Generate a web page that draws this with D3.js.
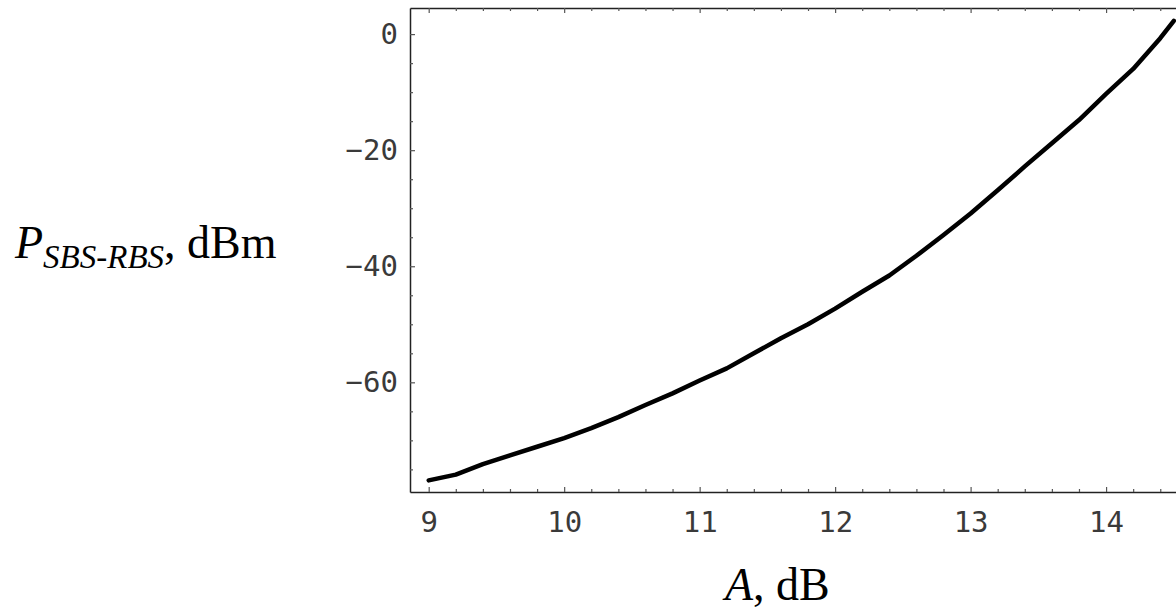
<!DOCTYPE html>
<html>
<head>
<meta charset="utf-8">
<script src="https://cdn.jsdelivr.net/npm/d3@7"></script>
<style>
  body { margin: 0; background: #fff; }
  .tick text { font-family: "DejaVu Sans Mono", "Liberation Mono", monospace; fill: #3a3a3a; }
  .axisText { font-family: "Liberation Serif", "Times New Roman", serif; fill: #000; }
</style>
</head>
<body>
<div id="chart"></div>
<script>
var svgWidth = 1176;
var svgHeight = 609;

// frame in pixels (right side runs past the picture edge)
var margin = { top: 8, right: -10, bottom: 117, left: 410 };
var width = svgWidth - margin.left - margin.right;
var height = svgHeight - margin.top - margin.bottom;

// Data
var attenuation = [9.0, 9.2, 9.4, 9.6, 9.8, 10.0, 10.2, 10.4, 10.6, 10.8, 11.0, 11.2, 11.4, 11.6, 11.8,
  12.0, 12.2, 12.4, 12.6, 12.8, 13.0, 13.2, 13.4, 13.6, 13.8, 14.0, 14.2, 14.4, 14.5];
var power = [-76.9, -75.9, -74.1, -72.6, -71.1, -69.6, -67.9, -66.0, -63.9, -61.9, -59.7, -57.6, -55.0, -52.4, -50.0,
  -47.3, -44.4, -41.6, -38.2, -34.6, -30.9, -26.9, -22.8, -18.8, -14.8, -10.3, -6.0, -0.7, 2.3];
var xTicks = [9, 10, 11, 12, 13, 14];
var yTicks = [0, -20, -40, -60];

var data = attenuation.map(function(a, i) { return { a: a, p: power[i] }; });

var svg = d3.select("#chart")
  .append("svg")
  .attr("width", svgWidth)
  .attr("height", svgHeight);

var chartGroup = svg.append("g")
  .attr("transform", `translate(${margin.left}, ${margin.top})`);

var xScale = d3.scaleLinear()
  .domain([8.862, 14.59])
  .range([0, width]);

var yScale = d3.scaleLinear()
  .domain([-78.9, 4.5])
  .range([height, 0]);

var xMinor = d3.range(8.8, 14.8, 0.2).map(d => +d.toFixed(1)).filter(d => d >= 8.862 && xTicks.indexOf(d) < 0);
var yMinor = d3.range(-75, 5, 5).filter(d => yTicks.indexOf(d) < 0);

function styleAxis(g) {
  g.select(".domain").attr("stroke", "#222").attr("stroke-width", 1.5);
  g.selectAll(".tick line").attr("stroke", "#555").attr("stroke-width", 1.2);
}

// bottom axis
chartGroup.append("g")
  .attr("transform", `translate(0, ${height})`)
  .call(d3.axisBottom(xScale).tickValues(xTicks).tickSize(-5).tickSizeOuter(0).tickPadding(19).tickFormat(d3.format("d")))
  .call(styleAxis)
  .call(g => g.selectAll("text").style("font-size", "29px"));
chartGroup.append("g")
  .attr("transform", `translate(0, ${height})`)
  .call(d3.axisBottom(xScale).tickValues(xMinor).tickSize(-3).tickSizeOuter(0).tickFormat(""))
  .call(styleAxis)
  .call(g => g.select(".domain").remove());

// top axis
chartGroup.append("g")
  .call(d3.axisTop(xScale).tickValues(xTicks).tickSize(-5).tickSizeOuter(0).tickFormat(""))
  .call(styleAxis);
chartGroup.append("g")
  .call(d3.axisTop(xScale).tickValues(xMinor).tickSize(-3).tickSizeOuter(0).tickFormat(""))
  .call(styleAxis)
  .call(g => g.select(".domain").remove());

// left axis
chartGroup.append("g")
  .call(d3.axisLeft(yScale).tickValues(yTicks).tickSize(-5).tickSizeOuter(0).tickPadding(12).tickFormat(d => d < 0 ? "\u2212" + Math.abs(d) : d))
  .call(styleAxis)
  .call(g => g.selectAll("text").style("font-size", "29px"));
chartGroup.append("g")
  .call(d3.axisLeft(yScale).tickValues(yMinor).tickSize(-3).tickSizeOuter(0).tickFormat(""))
  .call(styleAxis)
  .call(g => g.select(".domain").remove());

// curve
var line = d3.line()
  .x(d => xScale(d.a))
  .y(d => yScale(d.p));

chartGroup.append("path")
  .datum(data)
  .attr("fill", "none")
  .attr("stroke", "#000")
  .attr("stroke-width", 4.5)
  .attr("stroke-linejoin", "round")
  .attr("stroke-linecap", "round")
  .attr("d", line);

// axis labels
var yLabel = svg.append("text")
  .attr("class", "axisText")
  .attr("x", 15)
  .attr("y", 258)
  .style("font-size", "46px");
yLabel.append("tspan").style("font-style", "italic").text("P");
yLabel.append("tspan").style("font-style", "italic").style("font-size", "33px").attr("dy", 10).text("SBS-RBS");
yLabel.append("tspan").attr("dy", -10).text(", dBm");

var xLabel = svg.append("text")
  .attr("class", "axisText")
  .attr("x", 725)
  .attr("y", 600)
  .style("font-size", "46px");
xLabel.append("tspan").style("font-style", "italic").text("A");
xLabel.append("tspan").text(", dB");
</script>
</body>
</html>
